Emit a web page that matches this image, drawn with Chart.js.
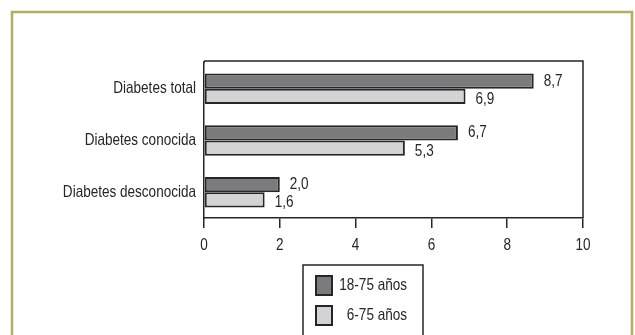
<!DOCTYPE html>
<html>
<head>
<meta charset="utf-8">
<script src="https://cdn.jsdelivr.net/npm/chart.js@4/dist/chart.umd.min.js"></script>
<style>
  html, body { margin: 0; padding: 0; background: #ffffff; }
  #wrap { position: relative; width: 635px; height: 335px; }
  canvas { display: block; }
</style>
</head>
<body>
<div id="wrap"><canvas id="c" width="635" height="335"></canvas></div>
<script>
// Prevalence of diabetes (%) by type and age group
const categories = ['Diabetes total', 'Diabetes conocida', 'Diabetes desconocida'];
const seriesNames = ['18-75 años', '6-75 años'];
const adults = [8.7, 6.7, 2.0];     // 18-75 años
const allAges = [6.9, 5.3, 1.6];    // 6-75 años
const xTicks = [0, 2, 4, 6, 8, 10];

const FONT = '"Liberation Sans", Arial, sans-serif';
const FONT_SIZE = 16.5;
const SQUEEZE = 0.82;   // horizontal condensing of all text
const INK = '#262626';
const fillColors = ['#7b7b7d', '#d3d3d5'];

// Draw text horizontally condensed around its anchor point
function condensedText(ctx, txt, x, y, align) {
  ctx.save();
  ctx.font = FONT_SIZE + 'px ' + FONT;
  ctx.fillStyle = INK;
  ctx.textAlign = align;
  ctx.textBaseline = 'middle';
  ctx.translate(x, y);
  ctx.scale(SQUEEZE, 1);
  ctx.fillText(txt, 0, 0);
  ctx.restore();
}

// Outer olive frame and the box around the plot
const framePlugin = {
  id: 'frame',
  beforeDraw(chart) {
    const ctx = chart.ctx;
    ctx.save();
    ctx.fillStyle = '#ffffff';
    ctx.fillRect(0, 0, chart.width, chart.height);
    ctx.strokeStyle = '#b5ad5f';
    ctx.lineWidth = 2.5;
    ctx.beginPath();
    ctx.moveTo(12, chart.height + 5);
    ctx.lineTo(12, 12);
    ctx.lineTo(632, 12);
    ctx.lineTo(632, chart.height + 5);
    ctx.stroke();
    ctx.restore();
  },
  afterDraw(chart) {
    const a = chart.chartArea;
    const ctx = chart.ctx;
    const top = a.top - 2;
    ctx.save();
    ctx.strokeStyle = INK;
    ctx.lineWidth = 1.5;
    ctx.beginPath();
    ctx.moveTo(a.left, top);
    ctx.lineTo(a.right, top);
    ctx.lineTo(a.right, a.bottom);
    ctx.moveTo(a.left, top);
    ctx.lineTo(a.left, a.top);
    ctx.stroke();
    ctx.restore();
  }
};

// Axis labels in the condensed face
const axisLabels = {
  id: 'axisLabels',
  afterDraw(chart) {
    const ctx = chart.ctx;
    const xs = chart.scales.x, ys = chart.scales.y;
    xs.ticks.forEach(t => {
      condensedText(ctx, String(t.value), xs.getPixelForValue(t.value), 245, 'center');
    });
    ys.ticks.forEach((t, i) => {
      condensedText(ctx, ys.getLabelForValue(t.value), ys.left + ys.width - 8, ys.getPixelForTick(i), 'right');
    });
  }
};

// Value labels at the end of each bar, with decimal comma
const valueLabels = {
  id: 'valueLabels',
  afterDatasetsDraw(chart) {
    const ctx = chart.ctx;
    chart.data.datasets.forEach((ds, di) => {
      const meta = chart.getDatasetMeta(di);
      meta.data.forEach((bar, i) => {
        const txt = ds.data[i].toFixed(1).replace('.', ',');
        const dy = di === 0 ? 0 : 3;
        condensedText(ctx, txt, bar.x + 10, bar.y + dy, 'left');
      });
    });
  }
};

// Boxed legend below the axis, one entry per row
const boxedLegend = {
  id: 'boxedLegend',
  afterDraw(chart) {
    const ctx = chart.ctx;
    ctx.save();
    const left = 303, right = 423, top = 265;
    ctx.strokeStyle = INK;
    ctx.lineWidth = 1.5;
    ctx.beginPath();
    ctx.moveTo(left, chart.height + 5);
    ctx.lineTo(left, top);
    ctx.lineTo(right, top);
    ctx.lineTo(right, chart.height + 5);
    ctx.stroke();
    chart.data.datasets.forEach((ds, i) => {
      const y = 276 + i * 30;
      ctx.fillStyle = ds.backgroundColor;
      ctx.fillRect(316, y, 16, 19);
      ctx.strokeStyle = INK;
      ctx.lineWidth = 2;
      ctx.strokeRect(316, y, 16, 19);
      condensedText(ctx, ds.label, 407, y + 9.5, 'right');
    });
    ctx.restore();
  }
};

new Chart(document.getElementById('c'), {
  type: 'bar',
  data: {
    labels: categories,
    datasets: [
      { label: seriesNames[0], data: adults, backgroundColor: fillColors[0] },
      { label: seriesNames[1], data: allAges, backgroundColor: fillColors[1] }
    ]
  },
  options: {
    indexAxis: 'y',
    responsive: false,
    animation: false,
    devicePixelRatio: 1,
    layout: { padding: { left: 0, top: 63, right: 52, bottom: 0 } },
    datasets: {
      bar: {
        categoryPercentage: 0.59,
        barPercentage: 1.0,
        borderColor: INK,
        borderWidth: 2,
        borderSkipped: false
      }
    },
    plugins: {
      legend: { display: false },
      tooltip: { enabled: false }
    },
    scales: {
      x: {
        type: 'linear',
        min: 0,
        max: 10,
        afterBuildTicks(scale) { scale.ticks = xTicks.map(v => ({ value: v })); },
        afterFit(scale) { scale.height = 335 - 218; },
        ticks: { display: false },
        grid: {
          drawOnChartArea: false,
          drawTicks: true,
          tickLength: 10,
          color: INK,
          lineWidth: 1.5
        },
        border: { display: true, color: INK, width: 1.5 }
      },
      y: {
        afterFit(scale) { scale.width = 204; },
        ticks: { display: false },
        grid: { display: false, drawTicks: false },
        border: { display: true, color: INK, width: 1.5 }
      }
    }
  },
  plugins: [framePlugin, valueLabels, axisLabels, boxedLegend]
});
</script>
</body>
</html>
